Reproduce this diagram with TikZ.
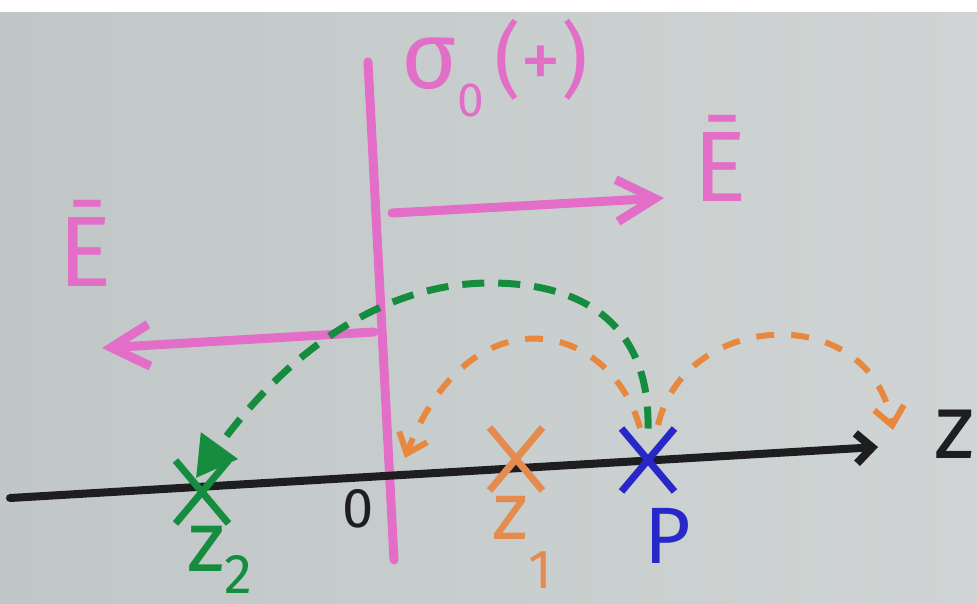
\documentclass[tikz,border=0pt]{standalone}
\usepackage{fontspec}
\setmainfont{Fira Sans}
\usetikzlibrary{arrows.meta,shapes.misc}
\definecolor{paperl}{RGB}{192,199,198}
\definecolor{paperr}{RGB}{208,212,212}
\definecolor{pinkm}{RGB}{226,110,200}
\definecolor{greenm}{RGB}{22,140,62}
\definecolor{orangem}{RGB}{232,135,62}
\definecolor{orangex}{RGB}{228,140,80}
\definecolor{bluem}{RGB}{40,40,200}
\definecolor{blackm}{RGB}{30,30,32}
\newcommand{\fsz}[1]{\fontsize{#1}{#1}\selectfont}
\tikzset{
  pinkline/.style={pinkm,line width=9pt,line cap=round},
  pinkarrow/.style={pinkline,-{Straight Barb[length=38pt,width=42pt,line width=9pt]}},
  cross/.style={cross out,draw=#1,line width=7pt,minimum width=46pt,minimum height=56pt,inner sep=0pt},
  greendash/.style={greenm,line width=7pt,dash pattern=on 22pt off 14pt},
  orangedash/.style={orangem,line width=6pt,dash pattern=on 18pt off 17pt},
  orangehead/.style={-{Straight Barb[length=18pt,width=30pt,line width=6pt]}},
  lbl/.style={inner sep=0pt},
}
\begin{document}
\begin{tikzpicture}[x=1pt,y=-1pt]
\fill[white] (0,0) rectangle (977,603);
\shade[left color=paperl,right color=paperr] (0,12) rectangle (977,603);
\useasboundingbox (0,0) rectangle (977,603);
% plane
\coordinate (pt) at (368,62);
\coordinate (pb) at (394,560);
\draw[pinkline] (pt) -- (pb);
\node[lbl,pinkm] (sig) at (495,68) {\fsz{95}σ\raisebox{-0.3em}{\fsz{48}0}\hspace{10pt}\fsz{82}(+)};
% field arrows
\coordinate (ra) at (392,213);
\coordinate (rb) at (664,198);
\draw[pinkarrow] (ra) -- (rb);
\node[lbl,pinkm,font=\fsz{100}] (Er) at (720,158) {Ē};
\coordinate (la) at (374,332);
\coordinate (lb) at (102,348);
\draw[pinkarrow] (la) -- (lb);
\node[lbl,pinkm,font=\fsz{100}] (El) at (85,243) {Ē};
% axis
\coordinate (za) at (10,498);
\coordinate (zb) at (878,447);
\draw[blackm,line width=8pt,line cap=round,-{Straight Barb[length=16pt,width=30pt,line width=8pt]}] (za) -- (zb);
\node[lbl,blackm,font=\fsz{92}] (zl) at (955,434) {z};
\node[lbl,blackm,font=\fsz{56}] (o) at (358,509) {0};
% points
\node[cross=greenm] (z2) at (202,492) {};
\node[cross=orangex] (z1) at (516,459) {};
\node[cross=bluem] (P) at (648,460) {};
\node[lbl,greenm] (z2l) at (220,560) {\fsz{86}z\raisebox{-0.25em}{\fsz{56}2}};
\node[lbl,orangex] (z1l) at (522,542) {\fsz{82}z\raisebox{-0.6em}{\fsz{55}1}};
\node[lbl,bluem,font=\fsz{80}] (Pl) at (668,536) {P};
% images
\coordinate (gend) at (196,478);
\draw[greendash,-{Triangle[length=40pt,width=44pt]}] (P.north) .. controls (650,330) and (590,283) .. (490,283) .. controls (380,283) and (285,355) .. (gend);
\coordinate (ol) at (640,428);
\coordinate (olend) at (405,458);
\draw[orangedash,orangehead] (ol) .. controls (610,320) and (470,290) .. (olend);
\coordinate (or) at (658,425);
\coordinate (orend) at (893,430);
\draw[orangedash,orangehead] (or) .. controls (685,310) and (870,300) .. (orend);
\end{tikzpicture}
\end{document}
